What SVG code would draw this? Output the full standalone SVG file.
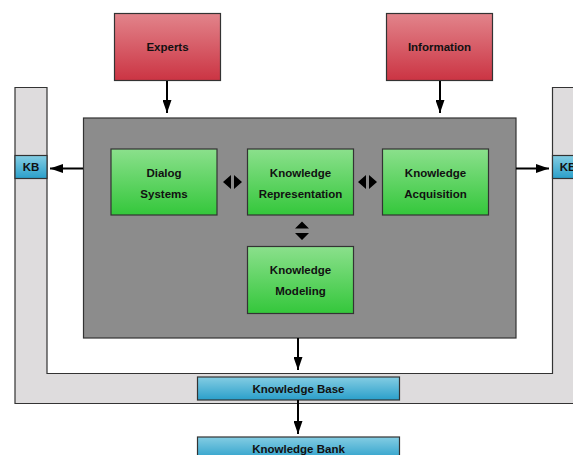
<svg xmlns="http://www.w3.org/2000/svg" width="573" height="455" viewBox="0 0 573 455">
<defs>
<linearGradient id="gr" x1="0" y1="0" x2="0" y2="1"><stop offset="0" stop-color="#e2848b"/><stop offset="1" stop-color="#cb3443"/></linearGradient>
<linearGradient id="gg" x1="0" y1="0" x2="0" y2="1"><stop offset="0" stop-color="#8be08c"/><stop offset="1" stop-color="#34c73b"/></linearGradient>
<linearGradient id="gb" x1="0" y1="0" x2="0" y2="1"><stop offset="0" stop-color="#84cde3"/><stop offset="1" stop-color="#2a9fca"/></linearGradient>
<marker id="ah" markerWidth="13" markerHeight="9" refX="13" refY="4.5" orient="auto" markerUnits="userSpaceOnUse"><path d="M0,0 L13,4.5 L0,9 Z" fill="#000"/></marker>
<style>
.red{fill:url(#gr);stroke:#333;stroke-width:1.2}
.grn{fill:url(#gg);stroke:#333;stroke-width:1.2}
.blu{fill:url(#gb);stroke:#333;stroke-width:1.2}
text{font-family:"Liberation Sans",Arial,sans-serif;font-weight:bold;font-size:11.5px;fill:#111;text-anchor:middle}
.ln{stroke:#000;stroke-width:2;fill:none}
.tri{fill:#000}
</style>
</defs>
<g id="frame">
<path d="M15,87.5 H47 V373.5 H552.5 V87.5 H585 V403.5 H15 Z" fill="#dedcdd" stroke="#333" stroke-width="1.2"/>
</g>
<g id="core"><rect x="83.5" y="118" width="432.5" height="220" fill="#8c8c8c" stroke="#333" stroke-width="1.2"/></g>
<g id="experts"><rect class="red" x="114.5" y="13.5" width="106" height="67"/><text x="167.5" y="51">Experts</text></g>
<g id="information"><rect class="red" x="386.5" y="13.5" width="106" height="67"/><text x="439.5" y="51">Information</text></g>
<g id="dialog"><rect class="grn" x="111" y="149" width="106" height="66"/><text x="164" y="177">Dialog</text><text x="164" y="198">Systems</text></g>
<g id="krep"><rect class="grn" x="247.5" y="149" width="106" height="66"/><text x="300.5" y="177">Knowledge</text><text x="300.5" y="198">Representation</text></g>
<g id="kacq"><rect class="grn" x="382.5" y="149" width="106" height="66"/><text x="435.5" y="177">Knowledge</text><text x="435.5" y="198">Acquisition</text></g>
<g id="kmod"><rect class="grn" x="247.5" y="246.5" width="106" height="67"/><text x="300.5" y="274">Knowledge</text><text x="300.5" y="295">Modeling</text></g>
<g id="kb-left"><rect class="blu" x="15" y="155.5" width="32" height="23"/><text x="31" y="171">KB</text></g>
<g id="kb-right"><rect class="blu" x="552.5" y="155.5" width="32" height="23"/><text x="568" y="171">KB</text></g>
<g id="kbase"><rect class="blu" x="197.5" y="377" width="202" height="23"/><text x="298.5" y="393">Knowledge Base</text></g>
<g id="kbank"><rect class="blu" x="197.5" y="437" width="202" height="23"/><text x="298.5" y="453">Knowledge Bank</text></g>
<g id="connectors">
<line class="ln" x1="167" y1="81" x2="167" y2="113" marker-end="url(#ah)"/>
<line class="ln" x1="440" y1="81" x2="440" y2="113" marker-end="url(#ah)"/>
<line class="ln" x1="83" y1="168.5" x2="50" y2="168.5" marker-end="url(#ah)"/>
<line class="ln" x1="516" y1="168.5" x2="549" y2="168.5" marker-end="url(#ah)"/>
<line class="ln" x1="298" y1="338" x2="298" y2="370" marker-end="url(#ah)"/>
<line class="ln" x1="298" y1="400" x2="298" y2="434" marker-end="url(#ah)"/>
<path class="tri" d="M231,175 L223,182 L231,189 Z M234,175 L242,182 L234,189 Z"/>
<path class="tri" d="M366,175 L358,182 L366,189 Z M369,175 L377,182 L369,189 Z"/>
<path class="tri" d="M295,228.5 L302,221.5 L309,228.5 Z M295,233 L302,240 L309,233 Z"/>
</g>
</svg>
